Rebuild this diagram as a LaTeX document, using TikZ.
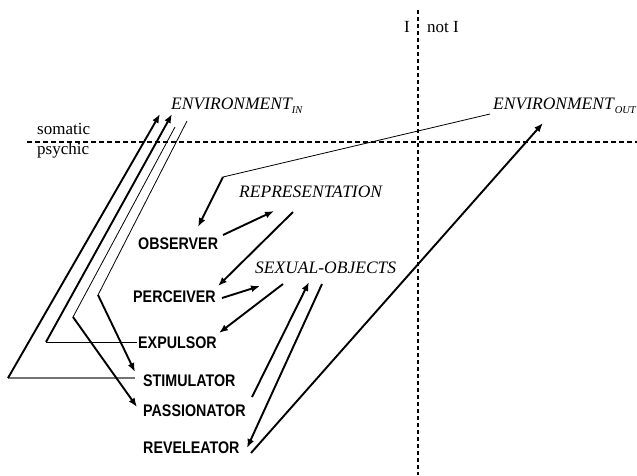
\documentclass[tikz,border=0pt]{standalone}
\usepackage{fontspec}
\setmainfont{Liberation Serif}
\newfontfamily\labfont{Liberation Sans}[FakeStretch=0.85]
\usetikzlibrary{arrows.meta}
\newcommand{\envsub}[1]{\raisebox{-4pt}{\fontsize{10.5}{10.5}\selectfont\itshape #1}}
\tikzset{
  ser/.style={font=\fontsize{17.5}{18}\selectfont\itshape, inner sep=0pt, anchor=base west},
  plain/.style={font=\fontsize{17}{18}\selectfont, inner sep=0pt, anchor=base west},
  lab/.style={font=\labfont\bfseries\fontsize{16.8}{18}\selectfont, inner sep=0pt, anchor=base west},
  thk/.style={line width=1.9pt},
  thn/.style={line width=0.8pt},
  arr/.style={thk, -{Latex[length=9pt,width=7pt]}},
  dsh/.style={line width=1.8pt, dash pattern=on 5pt off 3pt},
}
\begin{document}
\begin{tikzpicture}[x=1pt,y=-1pt]
\useasboundingbox (0,0) rectangle (637,475);
% axes
\coordinate (h1) at (27,142); \coordinate (h2) at (637,142);
\coordinate (v1) at (418,10); \coordinate (v2) at (418,475);
\draw[dsh] (h1) -- (h2);
\draw[line width=1.8pt, dash pattern=on 4pt off 3pt] (v1) -- (v2);
% texts
\node[plain] (I) at (404,32) {I};
\node[plain] (notI) at (427,32) {not I};
\node[plain] (som) at (37,134) {somatic};
\node[plain] (psy) at (37,154) {psychic};
\node[ser] (envin) at (171,109) {ENVIRONMENT\envsub{IN}};
\node[ser] (envout) at (493,109) {ENVIRONMENT\/\envsub{OUT}};
\node[ser] (rep) at (239,197) {REPRESENTATION};
\node[ser] (sex) at (255,273) {SEXUAL-OBJECTS};
\node[lab] (obs) at (138,249) {OBSERVER};
\node[lab] (per) at (133,302) {PERCEIVER};
\node[lab] (exp) at (138,348) {EXPULSOR};
\node[lab] (sti) at (143,386) {STIMULATOR};
\node[lab] (pas) at (143,416) {PASSIONATOR};
\node[lab] (rev) at (143,453) {REVELEATOR};
% connector points
\coordinate (eo1) at (490,114); \coordinate (ob0) at (223,177); \coordinate (ob1) at (198,227);
\coordinate (or0) at (223,235); \coordinate (or1) at (274,211);
\coordinate (rp0) at (293,212); \coordinate (rp1) at (218,286);
\coordinate (ps0) at (222,298); \coordinate (ps1) at (260,286);
\coordinate (se0) at (283,284); \coordinate (se1) at (219,333);
\coordinate (pa0) at (252,397); \coordinate (pa1) at (309,282);
\coordinate (sr0) at (322,284); \coordinate (sr1) at (247,448);
\coordinate (re0) at (251,453); \coordinate (re1) at (543,123);
\coordinate (st0) at (135,378); \coordinate (st1) at (8,378); \coordinate (st2) at (160,114);
\coordinate (ex0) at (137,342); \coordinate (ex1) at (46,342); \coordinate (ex2) at (172,114);
\coordinate (es0) at (187,121); \coordinate (es1) at (98,295); \coordinate (es2) at (135,372);
\coordinate (ep0) at (175,127); \coordinate (ep1) at (73,317); \coordinate (ep2) at (137,407);
% connectors
\draw[thn] (eo1) -- (ob0);
\draw[arr] (ob0) -- (ob1);
\draw[arr] (or0) -- (or1);
\draw[arr] (rp0) -- (rp1);
\draw[arr] (ps0) -- (ps1);
\draw[arr] (se0) -- (se1);
\draw[arr] (pa0) -- (pa1);
\draw[arr] (sr0) -- (sr1);
\draw[arr] (re0) -- (re1);
\draw[line width=1.1pt, black!55] (st0) -- (st1);
\draw[arr] (st1) -- (st2);
\draw[thn] (ex0) -- (ex1);
\draw[arr] (ex1) -- (ex2);
\draw[thn] (es0) -- (es1);
\draw[arr] (es1) -- (es2);
\draw[thn] (ep0) -- (ep1);
\draw[arr] (ep1) -- (ep2);
\end{tikzpicture}
\end{document}
